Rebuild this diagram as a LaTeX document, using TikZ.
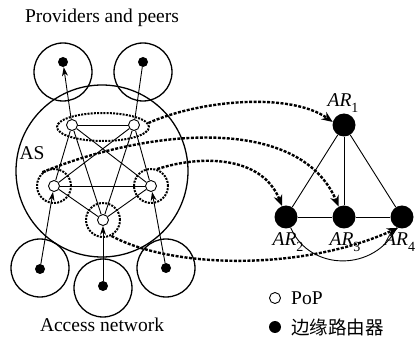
\documentclass[tikz,border=0pt]{standalone}
\usepackage{fontspec}
\setmainfont{Liberation Serif}
\newfontfamily\cjk{Noto Sans CJK SC}
\usetikzlibrary{arrows.meta,shapes.geometric}
\newcommand\arlab[1]{\textit{AR}\raisebox{-0.3em}{\fontsize{14}{15}\selectfont #1}}
\begin{document}
\begin{tikzpicture}[x=1pt,y=-1pt,
  pop/.style={circle,draw,fill=white,inner sep=0pt,minimum size=11pt,line width=0.9pt},
  router/.style={circle,fill=black,inner sep=0pt,minimum size=10pt},
  arnode/.style={circle,fill=black,inner sep=0pt,minimum size=23pt},
  cloud/.style={circle,draw,line width=1.3pt,inner sep=0pt,minimum size=58pt},
  grp/.style={draw,dash pattern=on 2pt off 1.2pt,line width=2pt,inner sep=0pt},
  link/.style={line width=0.9pt},
  linkarrow/.style={line width=0.9pt,-{Stealth[length=9pt,width=6pt]}},
  flow/.style={line width=2.4pt,dash pattern=on 3pt off 1.5pt,-{Stealth[length=11pt,width=9pt]}},
  lbl/.style={font=\fontsize{19.5}{22}\selectfont,inner sep=0pt}
]
\useasboundingbox (0,0) rectangle (416,337);

% titles
\node[lbl] (tprov) at (102,18) {Providers and peers};
\node[lbl] (tacc) at (102,325) {Access network};
\node[lbl] (tas) at (32,153) {AS};

% AS circle
\node[circle,draw,line width=1.3pt,minimum size=172pt,inner sep=0pt] (as) at (102,171) {};

% outer clouds
\node[cloud] (cpl) at (63,72) {};
\node[cloud] (cpr) at (143,72) {};
\node[cloud] (cbl) at (40,268) {};
\node[cloud] (cbm) at (103,288) {};
\node[cloud] (cbr) at (166,268) {};

% routers in clouds
\node[router] (dpl) at (63,62) {};
\node[router] (dpr) at (143,62) {};
\node[router] (dbl) at (40,269) {};
\node[router] (dbm) at (103,286) {};
\node[router] (dbr) at (166,268) {};

% groups
\node[ellipse,grp,minimum width=92pt,minimum height=28pt] (E) at (103,127) {};
\node[circle,grp,minimum size=34pt] (cL) at (54,186) {};
\node[circle,grp,minimum size=34pt] (cR) at (151,186) {};
\node[circle,grp,minimum size=34pt] (cB) at (103,220) {};

% PoPs
\node[pop] (TL) at (72,125) {};
\node[pop] (TR) at (134,125) {};
\node[pop] (L) at (54,186) {};
\node[pop] (R) at (151,186) {};
\node[pop] (B) at (103,220) {};

% full mesh
\draw[link] (TL) -- (TR);
\draw[link] (TL) -- (L);
\draw[link] (TL) -- (R);
\draw[link] (TL) -- (B);
\draw[link] (TR) -- (L);
\draw[link] (TR) -- (R);
\draw[link] (TR) -- (B);
\draw[link] (L) -- (R);
\draw[link] (L) -- (B);
\draw[link] (R) -- (B);

% external links
\draw[linkarrow] (TL) -- (dpl);
\draw[link] (TR) -- (dpr);
\draw[linkarrow] (dbl) -- (L);
\draw[linkarrow] (dbm) -- (B);
\draw[linkarrow] (dbr) -- (R);

% AR graph
\node[arnode] (AR1) at (344,125) {};
\node[arnode] (AR2) at (286,217) {};
\node[arnode] (AR3) at (344,217) {};
\node[arnode] (AR4) at (402,217) {};
\draw[link] (AR1) -- (AR2);
\draw[link] (AR1) -- (AR3);
\draw[link] (AR1) -- (AR4);
\draw[link] (AR2) -- (AR3);
\draw[link] (AR3) -- (AR4);
\draw[link] (AR2) .. controls (310,272) and (375,272) .. (AR4);

\node[lbl] (l1) at (343,103) {\arlab{1}};
\node[lbl] (l2) at (288,242) {\arlab{2}};
\node[lbl] (l3) at (345,242) {\arlab{3}};
\node[lbl,anchor=west] (l4) at (384,242) {\arlab{4}};

% flows
\draw[flow] (E.5) .. controls (200,100) and (290,92) .. (AR1.165);
\draw[flow] (cL.130) .. controls (150,128) and (300,115) .. (AR3.117);
\draw[flow] (cR.70) .. controls (200,155) and (262,155) .. (AR2.110);
\draw[flow] (cB.-62) .. controls (170,268) and (300,272) .. (AR4.-110);

% legend
\node[pop] (lgp) at (275,298) {};
\node[lbl,anchor=west] (lgpt) at (291,298) {PoP};
\node[circle,fill=black,inner sep=0pt,minimum size=12pt] (lgr) at (275,327) {};
\node[lbl,anchor=west] (lgrt) at (291,327) {\cjk\fontsize{18.5}{22}\selectfont 边缘路由器};
\end{tikzpicture}
\end{document}
